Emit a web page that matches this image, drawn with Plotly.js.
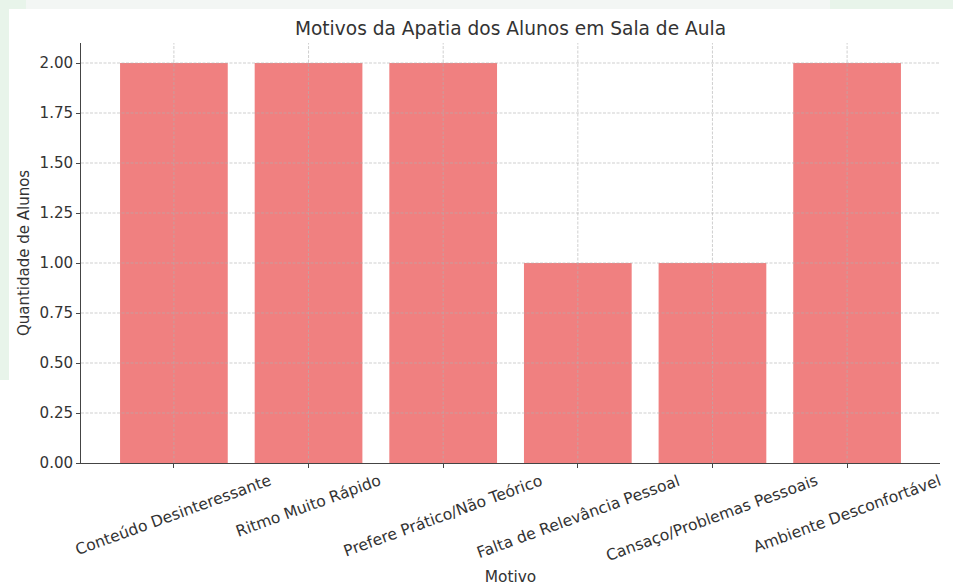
<!DOCTYPE html>
<html>
<head>
<meta charset="utf-8">
<script src="https://cdn.plot.ly/plotly-3.0.1.min.js"></script>
<style>html,body{margin:0;padding:0;background:#fff;}#chart{width:953px;height:588px;}</style>
</head>
<body>
<div id="chart"></div>
<script>
const categories = ["Conteúdo Desinteressante", "Ritmo Muito Rápido", "Prefere Prático/Não Teórico", "Falta de Relevância Pessoal", "Cansaço/Problemas Pessoais", "Ambiente Desconfortável"];
const counts = [2, 2, 2, 1, 1, 2];
const yTicks = [0, 0.25, 0.5, 0.75, 1.0, 1.25, 1.5, 1.75, 2.0];
const titleText = "Motivos da Apatia dos Alunos em Sala de Aula";
const xTitle = "Motivo";
const yTitle = "Quantidade de Alunos";

const FONT = "DejaVu Sans, sans-serif";
const TXT = "#333333";
const gridColor = "rgba(176,176,176,0.75)";

// plot-area pixel geometry (for paper-coordinate conversion of decorations)
const L = 81, R = 13, T = 43, B = 125, W = 953, H = 588;
const PW = W - L - R, PH = H - T - B;
const px = v => (v - L) / PW;
const py = v => (H - B - v) / PH;

const shapes = [];
// background tint at edges
shapes.push({type:'rect', xref:'paper', yref:'paper', layer:'below', x0:px(0), x1:px(9), y0:py(380), y1:py(0), fillcolor:'#e8f4ea', line:{width:0}});
shapes.push({type:'rect', xref:'paper', yref:'paper', layer:'below', x0:px(0), x1:px(26), y0:py(9), y1:py(0), fillcolor:'#e8f4ea', line:{width:0}});
shapes.push({type:'rect', xref:'paper', yref:'paper', layer:'below', x0:px(26), x1:px(830), y0:py(9), y1:py(0), fillcolor:'#f3f6f4', line:{width:0}});
shapes.push({type:'rect', xref:'paper', yref:'paper', layer:'below', x0:px(830), x1:px(953), y0:py(9), y1:py(0), fillcolor:'#e8f4ea', line:{width:0}});

// grid drawn above bars (as in the reference)
yTicks.forEach(t => {
  if (t === 0) return;
  shapes.push({type:'line', xref:'paper', yref:'y', layer:'above', x0:0, x1:1, y0:t, y1:t, line:{color:gridColor, width:0.8, dash:'3px,1.5px'}});
});
categories.forEach((c, i) => {
  shapes.push({type:'line', xref:'x', yref:'paper', layer:'above', x0:i, x1:i, y0:0, y1:1, line:{color:gridColor, width:0.8, dash:'3px,1.5px'}});
});

// rotated category labels, centred on tick like matplotlib rotation=20
const annotations = categories.map((c, i) => ({
  x: i, xref: 'x', y: 0, yref: 'paper', yanchor: 'top', xanchor: 'center',
  yshift: -6, text: c, showarrow: false, textangle: -20,
  font: {family: FONT, size: 15.6, color: TXT}
}));

const trace = {
  type: 'bar',
  x: categories.map((c, i) => i),
  y: counts,
  width: 0.8,
  marker: {color: '#F08080', line: {width: 0}},
  hoverinfo: 'skip'
};

const layout = {
  width: W, height: H,
  margin: {l: L, r: R, t: T, b: B, pad: 0},
  paper_bgcolor: '#ffffff',
  plot_bgcolor: 'rgba(0,0,0,0)',
  showlegend: false,
  title: {text: titleText, font: {family: FONT, size: 18.6, color: TXT}, x: 0.5, xref: 'paper', xanchor: 'center', y: 1 - 28/H, yref: 'container', yanchor: 'middle'},
  xaxis: {
    range: [-0.69, 5.69],
    tickmode: 'array', tickvals: categories.map((c, i) => i), ticktext: categories,
    showticklabels: false,
    ticks: 'outside', ticklen: 3.5, tickwidth: 1, tickcolor: '#444',
    showline: true, linecolor: '#444', linewidth: 1.3,
    showgrid: false, zeroline: false,
    title: {text: xTitle, font: {family: FONT, size: 15.4, color: TXT}, standoff: 104}
  },
  yaxis: {
    range: [0, 2.1],
    tickmode: 'array', tickvals: yTicks, ticktext: yTicks.map(v => v.toFixed(2)),
    ticks: 'outside', ticklen: 3.5, tickwidth: 1, tickcolor: '#444',
    tickfont: {family: FONT, size: 15.1, color: TXT},
    showline: true, linecolor: '#444', linewidth: 1.3,
    showgrid: false, zeroline: false,
    title: {text: yTitle, font: {family: FONT, size: 15, color: TXT}, standoff: 6}
  },
  shapes: shapes,
  annotations: annotations
};

Plotly.newPlot('chart', [trace], layout, {displayModeBar: false, staticPlot: true});
</script>
</body>
</html>
